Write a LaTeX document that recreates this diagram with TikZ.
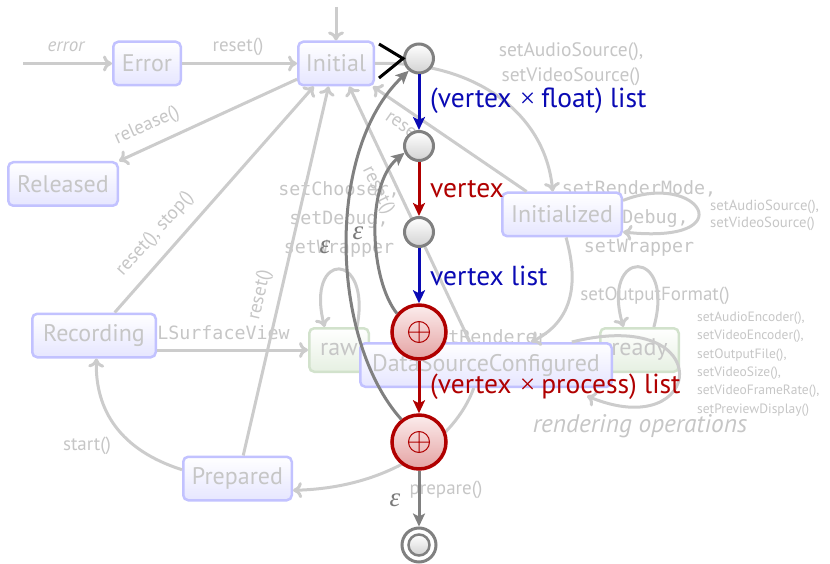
\documentclass[tikz,border=0pt]{standalone}
\usepackage{fontspec}
\setmainfont{PT Sans}
\setmonofont{DejaVu Sans Mono}
\newfontfamily\greekfont{Liberation Serif}
\usetikzlibrary{arrows.meta}

\definecolor{faded}{HTML}{CCCCCC}
\definecolor{fadedtext}{HTML}{C6C6C6}
\definecolor{stateline}{HTML}{C2C2FF}
\definecolor{statefill}{HTML}{E6E6FF}
\definecolor{modeline}{HTML}{D2E2CC}
\definecolor{modefill}{HTML}{E6F0E2}
\definecolor{autblue}{HTML}{0A0AB4}
\definecolor{autred}{HTML}{B00000}
\definecolor{autgray}{HTML}{808080}
\definecolor{epsgray}{HTML}{7A7A7A}
\definecolor{redtop}{HTML}{FCEDED}
\definecolor{redbottom}{HTML}{E4A2A2}
\definecolor{dotbottom}{HTML}{D2D2D2}

\newcommand{\cross}{\hspace{0.3em}{\greekfont ×}\hspace{0.22em}}

\begin{document}
\begin{tikzpicture}[x=1pt,y=-1pt,
  bgarrow/.style={draw=faded, line width=3pt, -{Computer Modern Rightarrow[length=9pt,width=16pt]}},
  bglabel/.style={text=fadedtext, font=\fontsize{19}{23}\selectfont, inner sep=0pt},
  bgitalic/.style={bglabel, font=\fontsize{19}{23}\selectfont\itshape},
  bgsmall/.style={text=fadedtext, font=\fontsize{13.5}{18.4}\selectfont, inner sep=0pt, align=left},
  bgcode/.style={text=fadedtext, font=\fontsize{18.3}{29}\selectfont\ttfamily, inner sep=0pt, align=center},
  statebox/.style={rounded corners=5pt, draw=stateline, line width=2.5pt, top color=white,
    bottom color=statefill, text=fadedtext, font=\fontsize{24}{28}\selectfont,
    minimum height=43.5pt, inner sep=0pt},
  modebox/.style={statebox, draw=modeline, bottom color=modefill},
  dot/.style={circle, draw=autgray, line width=3pt, top color=white, bottom color=dotbottom,
    minimum size=29pt, inner sep=0pt},
  % merge point: red disc with a thin circled plus
  sumnode/.style={circle, draw=autred, line width=3.5pt, top color=redtop, bottom color=redbottom,
    minimum size=54pt, inner sep=0pt,
    path picture={\draw[autred, line width=1pt] (path picture bounding box.center)
      circle[radius=10.5pt] ++(-10.5,0) -- ++(21,0) ++(-10.5,-10.5) -- ++(0,21);}},
  finalouter/.style={circle, draw=autgray, line width=3pt, fill=white, minimum size=34pt, inner sep=0pt},
  finalinner/.style={circle, draw=autgray, line width=2.5pt, top color=white, bottom color=dotbottom,
    minimum size=21pt, inner sep=0pt},
  fgarrow/.style={line width=3pt, -{Stealth[length=13pt,width=12pt,inset=3pt]}},
  fglabel/.style={font=\fontsize{27.5}{32}\selectfont, anchor=west, inner sep=0pt},
  eps/.style={text=epsgray, font=\fontsize{27}{28}\selectfont\greekfont\itshape, inner sep=0pt}]

\useasboundingbox (0,0) rectangle (830,564);

% ---------- faded state machine: labels ----------
\node[bgcode] (codeA) at (339,219) {setChooser,\\setDebug,\\setWrapper};
\node[bgcode] (codeB) at (639,218) {setRenderMode,\\setDebug,\\setWrapper};
\node[bgcode] (codeC) at (218,333) {GLSurfaceView};
\node[bgcode] (codeD) at (487,337) {setRenderer};

\node[bgitalic] (lerror) at (66,47) {error};
\node[bglabel] (lreset1) at (238,47) {reset()};
\node[bglabel, rotate=24] (lrelease) at (147,126) {release()};
\node[bglabel, rotate=48] (lstop) at (155,234) {reset(), stop()};
\node[bglabel, rotate=77] (lreset2) at (260,295) {reset()};
\node[bglabel, rotate=-64] (lreset3) at (378,190) {reset()};
\node[bglabel, rotate=-35] (lreset4) at (408,130) {reset()};
\node[bglabel, align=center, font=\fontsize{19.5}{25}\selectfont] (lsource) at (571,64)
  {setAudioSource(),\\setVideoSource()};
\node[bgsmall, anchor=west, font=\fontsize{14.7}{17}\selectfont] (lsource2) at (710,215)
  {setAudioSource(),\\setVideoSource()};
\node[bglabel] (lformat) at (655,296) {setOutputFormat()};
\node[bgsmall, anchor=west] (lsetup) at (697,364)
  {setAudioEncoder(),\\setVideoEncoder(),\\setOutputFile(),\\setVideoSize(),\\setVideoFrameRate(),\\setPreviewDisplay()};
\node[bglabel] (lstart) at (87,446) {start()};
\node[bglabel] (lprepare) at (446,490) {prepare()};
\node[bgitalic, font=\fontsize{25.4}{30}\selectfont\itshape] (lrender) at (640,426) {rendering operations};

% ---------- faded state machine: states ----------
\node[statebox, minimum width=67.5pt] (err) at (147,63.5) {Error};
\node[statebox, minimum width=75.5pt] (init) at (336,63.5) {Initial};
\node[statebox, minimum width=109.5pt] (rel) at (63,184) {Released};
\node[statebox, minimum width=119.5pt] (initd) at (562,214.5) {Initialized};
\node[statebox, minimum width=123.5pt] (rec) at (94,335.5) {Recording};
\node[statebox, minimum width=108.5pt] (prep) at (237.5,478.5) {Prepared};
\node[modebox, minimum width=59.5pt] (raw) at (339,350) {raw};
\node[modebox, minimum width=78.5pt] (ready) at (639.5,350) {ready};
\node[statebox, minimum width=251.5pt] (dsc) at (486,365) {DataSourceConfigured};

% ---------- faded state machine: transitions ----------
\coordinate (errin) at (23,63.5);
\coordinate (topin) at (336,7);
\coordinate (loopend) at (587,396);
\draw[bgarrow] (errin) -- (err.west);
\draw[bgarrow] (topin) -- (init.north);
\draw[bgarrow] (err.east) -- (init.west);
\draw[bgarrow] (init.202) -- (rel.north east);
\draw[bgarrow] (rec.48) -- (init.226);
\draw[bgarrow] (prep.76) -- (init.252);
\draw[bgarrow] (dsc.125) -- (init.300);
\draw[bgarrow] (initd.147) -- (init.328);
\draw[bgarrow] (rec.east |- raw.west) -- (raw.west);
\draw[bgarrow] (init.east) .. controls (470,60) and (545,110) .. (initd.112);
\draw[bgarrow] (initd.13) .. controls (700,170) and (745,245) .. (initd.-16);
\draw[bgarrow] (initd.-80) .. controls (578,280) and (575,320) .. (dsc.27);
\draw[bgarrow] (raw.52) .. controls (372,250) and (305,250) .. (raw.122);
\draw[bgarrow] (ready.58) .. controls (676,247) and (600,247) .. (ready.125);
\draw[bgarrow] (dsc.15) .. controls (720,305) and (705,445) .. (loopend);
\draw[bgarrow] (dsc.242) .. controls (455,440) and (390,488) .. (prep.-12);
\draw[bgarrow] (prep.171) .. controls (120,450) and (95,410) .. (rec.-84);

% ---------- automaton ----------
\node[dot] (v1) at (419,58.5) {};
\node[dot] (v2) at (419,146) {};
\node[dot] (v3) at (419,232) {};
\node[sumnode] (s1) at (419,332) {};
\node[sumnode] (s2) at (419,442) {};
\node[finalouter] (fin) at (419,545) {};
\node[finalinner] (fincore) at (419,545) {};

\coordinate (mk1) at (379,44);
\coordinate (mk2) at (379,78);
\draw[black, line width=3pt] (mk1) -- (v1.west) -- (mk2);

\draw[fgarrow, autblue] (v1) -- (v2);
\draw[fgarrow, autred] (v2) -- (v3);
\draw[fgarrow, autblue] (v3) -- (s1);
\draw[fgarrow, autred] (s1) -- (s2);
\draw[fgarrow, autgray] (s2) -- (fin);
\draw[fgarrow, autgray] (s2.128) .. controls (330,340) and (325,150) .. (v1.230);
\draw[fgarrow, autgray] (s1.140) .. controls (370,280) and (365,185) .. (v2.205);

\node[fglabel, autblue] (l1) at (430,101) {(vertex\cross float) list};
\node[fglabel, autred] (l2) at (430,189) {vertex};
\node[fglabel, autblue] (l3) at (430,276) {vertex list};
\node[fglabel, autred] (l4) at (430,387) {(vertex\cross process) list};
\node[eps] (e1) at (325,247) {ε};
\node[eps] (e2) at (358,233) {ε};
\node[eps] (e3) at (395,500) {ε};
\end{tikzpicture}
\end{document}
